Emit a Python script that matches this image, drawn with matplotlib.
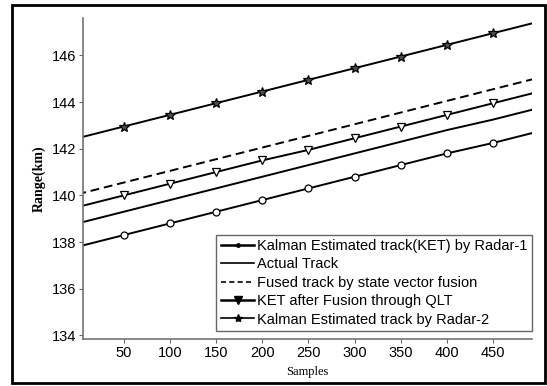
import matplotlib
matplotlib.use("Agg")
import matplotlib.pyplot as plt
from matplotlib.lines import Line2D
from matplotlib.patches import Rectangle
import numpy as np

# === Data ===
samples = [0, 50, 100, 150, 200, 250, 300, 350, 400, 450, 500]
radar1 = [137.8, 138.3, 138.8, 139.3, 139.8, 140.3, 140.8, 141.3, 141.8, 142.25, 142.75]
actual = [138.8, 139.3, 139.8, 140.3, 140.8, 141.3, 141.8, 142.3, 142.8, 143.25, 143.75]
fused = [140.05, 140.55, 141.05, 141.55, 142.05, 142.55, 143.05, 143.55, 144.05, 144.55, 145.05]
ket_qlt = [139.5, 140.0, 140.5, 141.0, 141.5, 141.95, 142.45, 142.95, 143.45, 143.95, 144.45]
radar2 = [142.45, 142.95, 143.45, 143.95, 144.45, 144.95, 145.45, 145.95, 146.45, 146.95, 147.45]

labels = ["Kalman Estimated track(KET) by Radar-1", "Actual Track",
          "Fused track by state vector fusion", "KET after Fusion through QLT",
          "Kalman Estimated track by Radar-2"]

plt.rcParams['font.family'] = ['Liberation Sans', 'DejaVu Sans']

fig = plt.figure(figsize=(5.47, 3.86), dpi=100)
ax = fig.add_axes([83 / 547, 1 - 339 / 386, (532 - 83) / 547, (339 - 18) / 386])

marks = slice(1, 10)
ax.plot(samples, radar1, color='black', lw=1.4, marker='o', ms=5, mfc='white', mew=0.9, markevery=marks)
ax.plot(samples, actual, color='black', lw=1.4)
ax.plot(samples, fused, color='black', lw=1.4, ls=(0, (4.5, 2.5)))
ax.plot(samples, ket_qlt, color='black', lw=1.4, marker='v', ms=6, mfc='white', mew=0.9, markevery=marks)
ax.plot(samples, radar2, color='black', lw=1.4, marker='*', ms=7, mfc='0.3', mew=0.9, markevery=marks)

ax.set_xlim(6, 492)
ax.set_ylim(133.85, 147.6)
ax.set_xticks(samples[1:10])
ax.set_yticks([134, 136, 138, 140, 142, 144, 146])
ax.tick_params(labelsize=10.5, length=3, color='0.4', pad=2)
for side in ['top', 'right']:
    ax.spines[side].set_visible(False)
for side in ['left', 'bottom']:
    ax.spines[side].set_color('0.45')
    ax.spines[side].set_linewidth(1.2)

ax.set_xlabel("Samples", family='Liberation Serif', fontsize=9, labelpad=4)
ax.set_ylabel("Range(km)", family='Liberation Serif', fontsize=10, fontweight='bold', labelpad=4)

handles = [
    Line2D([], [], color='black', lw=1.8, marker='o', ms=2.5),
    Line2D([], [], color='black', lw=1.2),
    Line2D([], [], color='black', lw=1.2, ls=(0, (3, 2))),
    Line2D([], [], color='black', lw=1.8, marker='v', ms=6),
    Line2D([], [], color='black', lw=1.2, marker='*', ms=6),
]
leg = ax.legend(handles, labels, loc='lower right', bbox_to_anchor=(1.0, 0.025),
                fontsize=10.5, frameon=True, fancybox=False, edgecolor='0.4',
                framealpha=1, borderpad=0.3, labelspacing=0.3, handlelength=2.3,
                handletextpad=0.2, borderaxespad=0)
leg.get_frame().set_linewidth(1.0)

# outer frame around the whole figure
fig.patches.append(Rectangle((12 / 547, 3 / 386), 533 / 547, 378 / 386,
                             transform=fig.transFigure, fill=False, lw=2, ec='black'))

fig.savefig("out.png", dpi=100)
